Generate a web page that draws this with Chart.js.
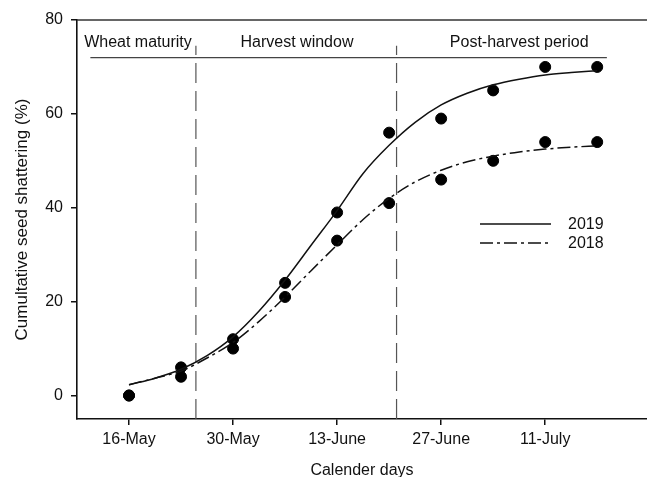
<!DOCTYPE html>
<html lang="en">
<head>
    <meta charset="UTF-8">
    <title>Cumulative seed shattering</title>
    <script src="https://cdn.jsdelivr.net/npm/chart.js"></script>
    <style>
        html, body {
            margin: 0;
            background: #ffffff;
            overflow: hidden;
        }
        #wrap {
            width: 647px;
            height: 477px;
            position: relative;
        }
    </style>
</head>
<body>
<div id="wrap">
    <canvas id="shatterChart"></canvas>
</div>
<script>
    // days counted from 16-May
    const days = [0, 7, 14, 21, 28, 35, 42, 49, 56, 63];
    const obs2019 = [0, 6, 12, 24, 39, 56, 59, 65, 70, 70];
    const obs2018 = [0, 4, 10, 21, 33, 41, 46, 50, 54, 54];

    // fitted curves, every 3.5 days
    const fitDays = [0, 3.5, 7, 10.5, 14, 17.5, 21, 24.5, 28, 31.5, 35, 38.5, 42, 45.5, 49, 52.5, 56, 59.5, 63];
    const fit2019 = [2.3, 3.7, 5.6, 8.5, 12.5, 18, 24.6, 32, 39.4, 47.3, 53.3, 58.2, 61.9, 64.4, 66.2, 67.4, 68.3, 68.8, 69.2];
    const fit2018 = [2.3, 3.7, 5.2, 8.0, 11.3, 15.8, 21.0, 26.6, 32.1, 37.5, 42.0, 45.5, 48.0, 49.8, 51.0, 51.9, 52.5, 52.9, 53.2];

    const tickDays = [0, 14, 28, 42, 56];
    const tickLabels = ['16-May', '30-May', '13-June', '27-June', '11-July'];
    const yTicks = [0, 20, 40, 60, 80];

    // period annotations
    const periodBounds = [9, 36];
    const periodLineY = 72;
    const periodLineX = [-5.2, 64.3];
    const boundTop = 74.5;
    const periodNames = ['Wheat maturity', 'Harvest window', 'Post-harvest period'];
    const periodCenters = [1.2, 22.6, 52.5];
    const periodLabelY = 75.2;

    const FONT = "'Liberation Sans', Arial, sans-serif";
    const toPts = (xs, ys) => xs.map((x, i) => ({x: x, y: ys[i]}));

    const extras = {
        id: 'extras',
        afterDatasetsDraw(chart) {
            const ctx = chart.ctx;
            const a = chart.chartArea;
            const xs = chart.scales.x, ys = chart.scales.y;
            ctx.save();
            // top frame line
            ctx.strokeStyle = '#333';
            ctx.lineWidth = 1.6;
            ctx.beginPath();
            ctx.moveTo(a.left, a.top);
            ctx.lineTo(a.right, a.top);
            ctx.stroke();

            // period labels
            ctx.fillStyle = '#111';
            ctx.font = '16px ' + FONT;
            ctx.textAlign = 'center';
            ctx.textBaseline = 'middle';
            periodNames.forEach((n, i) => {
                ctx.fillText(n, xs.getPixelForValue(periodCenters[i]), ys.getPixelForValue(periodLabelY));
            });

            // legend
            const lx0 = 480, lx1 = 551, tx = 568;
            const rows = [{y: 224, dash: [], label: '2019'}, {y: 243, dash: [13, 4, 3, 4], label: '2018'}];
            ctx.strokeStyle = '#111';
            ctx.lineWidth = 1.5;
            ctx.textAlign = 'left';
            rows.forEach(r => {
                ctx.setLineDash(r.dash);
                ctx.beginPath();
                ctx.moveTo(lx0, r.y);
                ctx.lineTo(lx1, r.y);
                ctx.stroke();
                ctx.fillText(r.label, tx, r.y + 1);
            });
            ctx.restore();
        }
    };

    const lineBase = {
        showLine: true,
        pointRadius: 0,
        borderColor: '#111',
        borderWidth: 1.5,
        fill: false
    };

    const datasets = [
        Object.assign({}, lineBase, {
            label: 'fit2019',
            data: toPts(fitDays, fit2019),
            cubicInterpolationMode: 'monotone'
        }),
        Object.assign({}, lineBase, {
            label: 'fit2018',
            data: toPts(fitDays, fit2018),
            cubicInterpolationMode: 'monotone',
            borderDash: [13, 4, 3, 4]
        }),
        {
            label: '2019',
            data: toPts(days, obs2019),
            pointRadius: 5.5,
            backgroundColor: '#000',
            borderColor: '#000',
            showLine: false
        },
        {
            label: '2018',
            data: toPts(days, obs2018),
            pointRadius: 5.5,
            backgroundColor: '#000',
            borderColor: '#000',
            showLine: false
        },
        Object.assign({}, lineBase, {
            label: 'periodLine',
            data: periodLineX.map(x => ({x: x, y: periodLineY})),
            borderColor: '#444',
            borderWidth: 1.2
        })
    ];
    periodBounds.forEach(b => {
        datasets.push(Object.assign({}, lineBase, {
            label: 'bound',
            data: [{x: b, y: -5}, {x: b, y: boundTop}],
            borderColor: '#555',
            borderWidth: 1.2,
            borderDash: [20, 8]
        }));
    });

    new Chart(document.getElementById('shatterChart'), {
        type: 'scatter',
        data: {datasets: datasets},
        options: {
            responsive: true,
            maintainAspectRatio: false,
            animation: false,
            layout: {autoPadding: false, padding: {top: 20, right: 0, left: 0, bottom: 0}},
            plugins: {
                legend: {display: false},
                tooltip: {enabled: false}
            },
            scales: {
                x: {
                    type: 'linear',
                    min: -7,
                    max: 69.7,
                    afterBuildTicks: s => { s.ticks = tickDays.map(v => ({value: v})); },
                    afterFit: s => {
                        s.height = 58;
                        s.paddingLeft = 0;
                        s.paddingRight = 0;
                    },
                    ticks: {
                        callback: v => tickLabels[tickDays.indexOf(v)],
                        font: {family: FONT, size: 16},
                        color: '#111',
                        padding: 5,
                        maxRotation: 0
                    },
                    grid: {drawOnChartArea: false, drawTicks: true, tickLength: 6, color: '#111', lineWidth: 1.5},
                    border: {display: true, color: '#111', width: 1.6},
                    title: {
                        display: true,
                        text: 'Calender days',
                        font: {family: FONT, size: 16},
                        color: '#111',
                        padding: {top: 0, bottom: -3}
                    }
                },
                y: {
                    min: -5,
                    max: 80,
                    afterBuildTicks: s => { s.ticks = yTicks.map(v => ({value: v})); },
                    afterFit: s => { s.width = 77; },
                    ticks: {
                        font: {family: FONT, size: 16},
                        color: '#111',
                        padding: 8
                    },
                    grid: {drawOnChartArea: false, drawTicks: true, tickLength: 6, color: '#111', lineWidth: 1.5},
                    border: {display: true, color: '#111', width: 1.6},
                    title: {
                        display: true,
                        text: 'Cumultative seed shattering (%)',
                        font: {family: FONT, size: 17},
                        color: '#111',
                        padding: {top: 12, bottom: 0}
                    }
                }
            }
        },
        plugins: [extras]
    });
</script>
</body>
</html>
